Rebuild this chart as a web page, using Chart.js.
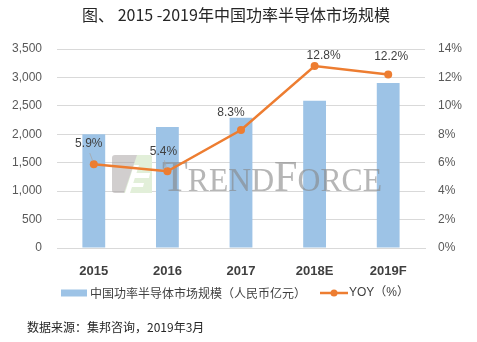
<!DOCTYPE html>
<html>
<head>
<meta charset="utf-8">
<script src="https://cdn.jsdelivr.net/npm/chart.js@4/dist/chart.umd.min.js"></script>
<style>
  html, body { margin: 0; padding: 0; background: #fff; }
  #wrap { width: 477px; height: 342px; }
</style>
</head>
<body>
<div id="wrap"><canvas id="c" width="477" height="342"></canvas></div>
<script>
// Categories and series
const years = ['2015', '2016', '2017', '2018E', '2019F'];
const marketSize = [2000, 2130, 2290, 2590, 2900];   // 人民币亿元
const yoyPercent = [5.9, 5.4, 8.3, 12.8, 12.2];       // %

// Axis ranges
const sizeAxisMax = 3500, sizeAxisStep = 500;
const yoyAxisMax = 14, yoyAxisStep = 2;

const titleText = '图、 2015 -2019年中国功率半导体市场规模';
const sizeLabel = '中国功率半导体市场规模（人民币亿元）';
const yoyLabel = 'YOY（%）';
const sourceText = '数据来源：集邦咨询，2019年3月';

const BAR_COLOR = '#9DC3E6';
const LINE_COLOR = '#ED7D31';
const TEXT_COLOR = '#404040';
const CJK = '"Noto Sans CJK SC", sans-serif';
const LATIN = '"Liberation Sans", "Noto Sans CJK SC", sans-serif';

Chart.defaults.font.family = LATIN;
Chart.defaults.color = '#595959';

function roundedRect(ctx, x, y, w, h, r) {
  ctx.beginPath();
  ctx.moveTo(x + r, y);
  ctx.lineTo(x + w - r, y); ctx.quadraticCurveTo(x + w, y, x + w, y + r);
  ctx.lineTo(x + w, y + h - r); ctx.quadraticCurveTo(x + w, y + h, x + w - r, y + h);
  ctx.lineTo(x + r, y + h); ctx.quadraticCurveTo(x, y + h, x, y + h - r);
  ctx.lineTo(x, y + r); ctx.quadraticCurveTo(x, y, x + r, y);
  ctx.closePath();
}

// Title, watermark, value labels, legend and source note
const decorations = {
  id: 'decorations',
  afterDatasetDraw(chart, args) {
    if (args.index !== 0) return;
    const ctx = chart.ctx, a = chart.chartArea;
    const x0 = a.left + 55, y0 = a.top + 106;
    ctx.save();
    // logo block
    ctx.globalAlpha = 0.5;
    ctx.fillStyle = '#a39d9d';
    roundedRect(ctx, x0, y0, 40, 38, 3);
    ctx.fill();
    ctx.globalAlpha = 1;
    ctx.fillStyle = '#e2efd9';
    ctx.beginPath();
    ctx.moveTo(x0 + 25, y0); ctx.lineTo(x0 + 38, y0);
    ctx.quadraticCurveTo(x0 + 40, y0, x0 + 40, y0 + 3);
    ctx.lineTo(x0 + 40, y0 + 38); ctx.lineTo(x0 + 12, y0 + 38); ctx.closePath();
    ctx.fill();
    ctx.fillStyle = '#ffffff';
    ctx.beginPath();
    ctx.moveTo(x0 + 22, y0 + 10); ctx.lineTo(x0 + 27, y0 + 10);
    ctx.lineTo(x0 + 18, y0 + 38); ctx.lineTo(x0 + 13, y0 + 38); ctx.closePath();
    ctx.fill();
    ctx.beginPath();
    ctx.moveTo(x0 + 21, y0 + 18); ctx.lineTo(x0 + 38, y0 + 18);
    ctx.lineTo(x0 + 37, y0 + 23); ctx.lineTo(x0 + 20, y0 + 23); ctx.closePath();
    ctx.fill();
    ctx.beginPath();
    ctx.moveTo(x0 + 18, y0 + 28); ctx.lineTo(x0 + 32, y0 + 28);
    ctx.lineTo(x0 + 31, y0 + 32); ctx.lineTo(x0 + 17, y0 + 32); ctx.closePath();
    ctx.fill();
    // lettering
    ctx.globalAlpha = 0.6;
    ctx.fillStyle = '#858585';
    ctx.textBaseline = 'alphabetic';
    ctx.textAlign = 'left';
    const parts = [['T', 44], ['REND', 33], ['F', 44], ['ORCE', 33]];
    const base = y0 + 36;
    const widths = parts.map(p => { ctx.font = p[1] + 'px "Liberation Serif", serif'; return ctx.measureText(p[0]).width; });
    const total = widths.reduce((s, w) => s + w, 0);
    const scale = 220 / total;
    let x = x0 + 50;
    parts.forEach((p, i) => {
      ctx.save();
      ctx.translate(x, base);
      ctx.scale(scale, 1);
      ctx.font = p[1] + 'px "Liberation Serif", serif';
      ctx.fillText(p[0], 0, 0);
      ctx.restore();
      x += widths[i] * scale;
    });
    ctx.restore();
  },
  afterDraw(chart, args, opts) {
    const ctx = chart.ctx;
    ctx.save();
    // title
    ctx.fillStyle = '#262626';
    ctx.font = '16px ' + CJK;
    ctx.textAlign = 'center';
    ctx.textBaseline = 'middle';
    ctx.fillText(titleText, 236, 15);

    // YOY value labels
    const meta = chart.getDatasetMeta(1);
    ctx.font = '12px ' + LATIN;
    ctx.fillStyle = TEXT_COLOR;
    meta.data.forEach((pt, i) => {
      const off = opts.labelOffsets[i];
      const lx = pt.x + off[0], ly = pt.y + off[1];
      if (opts.leaders[i]) {
        ctx.strokeStyle = '#a6a6a6';
        ctx.lineWidth = 0.75;
        ctx.beginPath();
        ctx.moveTo(lx + 1, ly + 9);
        ctx.lineTo(pt.x - 1, pt.y - 3);
        ctx.stroke();
      }
      ctx.fillText(yoyPercent[i].toFixed(1) + '%', lx, ly);
    });

    // legend
    const ly = 293;
    ctx.fillStyle = BAR_COLOR;
    ctx.fillRect(61, ly - 3.5, 26, 7);
    ctx.fillStyle = TEXT_COLOR;
    ctx.textAlign = 'left';
    ctx.font = '12px ' + CJK;
    ctx.fillText(sizeLabel, 90, ly);
    ctx.strokeStyle = LINE_COLOR;
    ctx.lineWidth = 2.5;
    ctx.beginPath(); ctx.moveTo(320, ly); ctx.lineTo(348, ly); ctx.stroke();
    ctx.fillStyle = LINE_COLOR;
    ctx.beginPath(); ctx.arc(334, ly, 3.5, 0, Math.PI * 2); ctx.fill();
    ctx.fillStyle = TEXT_COLOR;
    ctx.font = '12px ' + LATIN;
    ctx.fillText(yoyLabel, 349, ly);

    // source note
    ctx.fillStyle = '#262626';
    ctx.font = '12px ' + CJK;
    ctx.fillText(sourceText, 27, 327);
    ctx.restore();
  }
};

new Chart(document.getElementById('c'), {
  data: {
    labels: years,
    datasets: [
      {
        type: 'bar',
        label: sizeLabel,
        data: marketSize,
        backgroundColor: BAR_COLOR,
        yAxisID: 'y',
        categoryPercentage: 1,
        barPercentage: 0.31,
        order: 1
      },
      {
        type: 'line',
        label: yoyLabel,
        data: yoyPercent,
        borderColor: LINE_COLOR,
        backgroundColor: LINE_COLOR,
        borderWidth: 2.5,
        pointRadius: 4,
        pointBackgroundColor: LINE_COLOR,
        pointBorderWidth: 0,
        tension: 0,
        yAxisID: 'y1',
        order: 0
      }
    ]
  },
  options: {
    responsive: false,
    animation: false,
    layout: { padding: { top: 49, left: 0, right: 0, bottom: 64 } },
    plugins: {
      legend: { display: false },
      tooltip: { enabled: false },
      decorations: {
        labelOffsets: [[-5, -20], [-4, -20], [-10, -17], [9, -10], [3, -18]],
        leaders: [true, true, false, false, false]
      }
    },
    scales: {
      x: {
        grid: { display: false },
        border: { display: true, color: '#d9d9d9' },
        ticks: { font: { size: 13, weight: 'bold' }, color: TEXT_COLOR, padding: 8 },
        afterFit(s) { s.height = 30; }
      },
      y: {
        position: 'left',
        min: 0, max: sizeAxisMax,
        ticks: { stepSize: sizeAxisStep, padding: 15, font: { size: 12 }, color: '#595959' },
        grid: { color: '#d9d9d9', drawTicks: false },
        border: { display: false },
        afterFit(s) { s.width = 57; }
      },
      y1: {
        position: 'right',
        min: 0, max: yoyAxisMax,
        ticks: { stepSize: yoyAxisStep, padding: 13, font: { size: 12 }, color: '#595959', callback: v => v + '%' },
        grid: { drawOnChartArea: false, drawTicks: false },
        border: { display: false },
        afterFit(s) { s.width = 52; }
      }
    }
  },
  plugins: [decorations]
});
</script>
</body>
</html>
